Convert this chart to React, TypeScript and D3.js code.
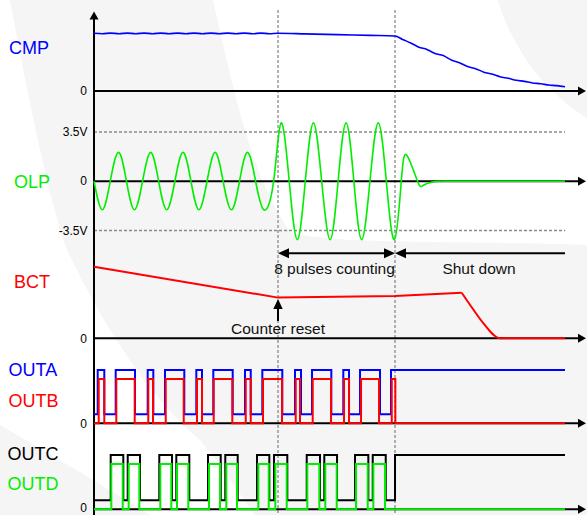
import React from "react";
import * as d3 from "d3";

// ---------- data (time in µs-like units, 0..145) ----------
const T_MAX = 145;
const T_RESET = 56.65;
const T_SHUT = 92.67;

// CMP (arbitrary volts)
const CMP_T = [0, 2.57, 5.14, 7.71, 10.28, 12.85, 15.42, 17.99, 20.56, 23.13, 25.7, 28.27, 30.84, 33.41, 35.98, 38.55, 41.12, 43.69, 46.26, 48.83, 51.4, 53.97, 56.54,
  65, 75, 85, 92.67,
  95, 97.5, 100, 102.5, 105, 107.5, 110, 112.5, 115, 117.5, 120, 122.5, 125, 127.5, 130, 132.5, 135, 137.5, 140, 142.5, 145];
const CMP_V = [3.0, 2.98, 3.01, 2.98, 3.01, 2.98, 3.01, 2.98, 3.01, 2.98, 3.01, 2.98, 3.01, 2.98, 3.01, 2.98, 3.01, 2.98, 3.01, 2.98, 3.01, 2.98, 3.0,
  2.97, 2.93, 2.89, 2.86,
  2.68, 2.50, 2.28, 2.16, 1.95, 1.84, 1.61, 1.47, 1.27, 1.16, 0.98, 0.88, 0.74, 0.66, 0.56, 0.50, 0.42, 0.38, 0.31, 0.28, 0.22];

// OLP (volts), extrema and zero crossings
const OLP_T = [0, 2.55, 5.0, 7.55, 10.0, 12.45, 14.95, 17.45, 19.9, 22.4, 24.9, 27.4, 29.85, 32.3, 34.8, 37.3, 39.75, 42.3, 44.8, 47.25, 49.75, 52.3,
  55.3, 57.6, 60.1, 62.6, 65.05, 67.55, 70.1, 72.7, 75.15, 77.6, 80.0, 82.4, 84.95, 87.5, 90.0, 92.5,
  94.6, 96.3, 99.6, 101.3, 104, 107];
const OLP_V = [0, -2.03, 0, 2.05, 0, -2.03, 0, 2.05, 0, -2.03, 0, 2.05, 0, -2.03, 0, 2.05, 0, -2.03, 0, 2.05, 0, -2.03,
  0, 4.15, 0, -4.15, 0, 4.15, 0, -4.15, 0, 4.15, 0, -4.15, 0, 4.15, 0, -4.15,
  0, 1.85, 0, -0.3, -0.06, 0];
const OLP_TAIL_T = [107, 145];
const OLP_TAIL_V = [0, 0];

// BCT
const BCT_T = [0, T_RESET, T_SHUT, 113.2];
const BCT_V = [3.98, 2.26, 2.35, 2.53];
const BCT_DECAY_T = [113.2, 115.8, 119.9, 125, 145];
const BCT_DECAY_V = [2.53, 1.85, 0.83, 0, 0];

// digital outputs: [rise, fall] pairs
const OUTA = [[1.14, 3.17], [6.68, 12.62], [16.53, 18.26], [21.86, 27.8], [31.5, 33.25], [36.73, 42.7], [46.49, 48.25], [51.82, 57.97],
  [61.88, 63.73], [67.12, 73.06], [76.75, 78.51], [81.9, 88.05], [91.44, 145]];
const OUTB = [[1.45, 3.17], [6.87, 12.53], [16.72, 18.17], [22.08, 27.62], [31.71, 33.25], [36.85, 42.58], [46.71, 48.25], [52.03, 57.88],
  [62.1, 63.42], [67.33, 72.97], [76.97, 78.51], [82.21, 87.75], [91.66, 92.77]];
const OUTC = [[5.14, 9.02], [10.38, 14.16], [20.1, 24.01], [25.34, 29.34], [35.1, 39.01], [40.42, 44.24], [50.18, 53.97], [55.42, 59.51],
  [65.49, 69.58], [70.9, 74.82], [80.36, 84.45], [85.81, 89.81], [92.67, 145]];
const OUTD = [[5.33, 8.84], [10.68, 13.95], [20.41, 23.8], [25.55, 29.03], [35.41, 38.79], [40.73, 44.03], [50.59, 53.79], [55.82, 59.33],
  [65.67, 69.37], [71.21, 74.72], [80.67, 84.27], [86.0, 89.59]];

const LABELS = ["CMP", "OLP", "BCT", "OUTA", "OUTB", "OUTC", "OUTD"];
const OLP_TICKS = [3.5, -3.5];

const BLUE = "#0000ff";
const RED = "#ff0000";
const GREEN = "#00ee00";
const BLACK = "#000000";
const GRAY = "#8a8a8a";
const FONT = "'Liberation Sans', Arial, Helvetica, sans-serif";

function zip(t: number[], v: number[]) {
  return t.map((d, i) => [d, v[i]] as [number, number]);
}

function pulsePoints(pulses: number[][]) {
  const pts: [number, number][] = [[0, 0]];
  let level = 0;
  for (const [r, f] of pulses) {
    pts.push([r, 1]);
    level = 1;
    if (f < T_MAX) {
      pts.push([f, 0]);
      level = 0;
    }
  }
  pts.push([T_MAX, level]);
  return pts;
}

export default function App() {
  const W = 587, H = 515;
  const X0 = 94;
  const x = d3.scaleLinear().domain([0, T_MAX]).range([X0, 565]);
  const xAxisEnd = 586;

  const yCmp = d3.scaleLinear().domain([0, 3]).range([91, 33.3]);
  const yOlp = d3.scaleLinear().domain([-3.5, 3.5]).range([230.5, 132]);
  const yBct = d3.scaleLinear().domain([0, 4]).range([338.3, 266.3]);
  const yA = d3.scaleLinear().domain([0, 1]).range([414.3, 370]);
  const yB = d3.scaleLinear().domain([0, 1]).range([423.3, 379]);
  const yC = d3.scaleLinear().domain([0, 1]).range([500.3, 455]);
  const yD = d3.scaleLinear().domain([0, 1]).range([509.3, 464]);

  const baselines = [yCmp(0), yOlp(0), yBct(0), yB(0), yD(0)];

  const lineWith = (ys: d3.ScaleLinear<number, number>, curve: d3.CurveFactory) =>
    d3.line<[number, number]>().x((d) => x(d[0])).y((d) => ys(d[1])).curve(curve);

  const cmpPath = lineWith(yCmp, d3.curveMonotoneX)(zip(CMP_T, CMP_V)) || "";
  const olpPath = lineWith(yOlp, d3.curveNatural)(zip(OLP_T, OLP_V)) || "";
  const olpTail = lineWith(yOlp, d3.curveLinear)(zip(OLP_TAIL_T, OLP_TAIL_V)) || "";
  const bctPath = lineWith(yBct, d3.curveLinear)(zip(BCT_T, BCT_V)) || "";
  const bctDecay = lineWith(yBct, d3.curveMonotoneX)(zip(BCT_DECAY_T, BCT_DECAY_V)) || "";
  const pA = lineWith(yA, d3.curveStepAfter)(pulsePoints(OUTA)) || "";
  const pB = lineWith(yB, d3.curveStepAfter)(pulsePoints(OUTB)) || "";
  const pC = lineWith(yC, d3.curveStepAfter)(pulsePoints(OUTC)) || "";
  const pD = lineWith(yD, d3.curveStepAfter)(pulsePoints(OUTD)) || "";

  // arrowhead helpers
  const headRight = (tx: number, ty: number, len = 8, hw = 4.5) => `M${tx},${ty}L${tx - len},${ty - hw}L${tx - len},${ty + hw}Z`;
  const headLeft = (tx: number, ty: number, len = 10, hw = 5) => `M${tx},${ty}L${tx + len},${ty - hw}L${tx + len},${ty + hw}Z`;
  const headUp = (tx: number, ty: number, len = 8, hw = 4.5) => `M${tx},${ty}L${tx - hw},${ty + len}L${tx + hw},${ty + len}Z`;

  const xr = x(T_RESET);
  const xs = x(T_SHUT);
  const arrowY = 253.3;

  const labelPos: [number, number, string][] = [
    [9, 48, BLUE], [14, yOlp(0), GREEN], [14, 281.7, RED], [8.5, 370, BLUE], [8.5, 400.7, RED], [7.5, 454, BLACK], [7.5, 484, GREEN],
  ];

  return (
    <svg width={W} height={H} style={{ position: "absolute", left: 0, top: 0, background: "#fff" }} fontFamily={FONT}>
      {/* faint watermark */}
      <g fill="#f5f5f5" stroke="none">
        <path d="M10,0 C30,110 50,200 65,245 C90,300 140,390 200,440 C225,470 240,495 255,515 L587,515 L587,245 C450,240 330,245 290,232 C255,180 240,120 213,0 Z" />
        <path d="M0,425 C60,460 110,490 150,515 L0,515 Z" />
        <circle cx={700} cy={-60} r={211} />
      </g>

      {/* dashed guides */}
      <g stroke={GRAY} strokeWidth={1.3} strokeDasharray="3,2" fill="none">
        <line x1={xr} x2={xr} y1={10} y2={H} />
        <line x1={xs} x2={xs} y1={10} y2={H} />
        {OLP_TICKS.map((v) => (
          <line key={v} x1={x(0)} x2={x(T_MAX)} y1={yOlp(v)} y2={yOlp(v)} />
        ))}
      </g>

      {/* axes */}
      <g stroke={BLACK} strokeWidth={2} fill="none">
        <line x1={X0} x2={X0} y1={18} y2={H} />
        {baselines.map((b, i) => (
          <line key={i} x1={X0} x2={xAxisEnd - 6} y1={b} y2={b} />
        ))}
      </g>
      <g fill={BLACK}>
        <path d={headUp(X0, 11.5, 8, 4.5)} />
        {baselines.map((b, i) => (
          <path key={i} d={headRight(xAxisEnd, b, 8, 4.5)} />
        ))}
      </g>

      {/* tick labels */}
      <g fontSize={12} fill={BLACK} textAnchor="end">
        {baselines.map((b, i) => (
          <text key={i} x={87} y={Math.min(b, 508)} dy="0.35em">0</text>
        ))}
        {OLP_TICKS.map((v) => (
          <text key={v} x={87.5} y={yOlp(v)} dy="0.36em">{v > 0 ? `${v}V` : `-${Math.abs(v)}V`}</text>
        ))}
      </g>

      {/* signal labels */}
      <g fontSize={18}>
        {LABELS.map((l, i) => (
          <text key={l} x={labelPos[i][0]} y={labelPos[i][1]} dy="0.36em" fill={labelPos[i][2]}>{l}</text>
        ))}
      </g>

      {/* signals */}
      <g fill="none" strokeLinejoin="round">
        <path d={cmpPath} stroke={BLUE} strokeWidth={1.6} />
        <path d={olpPath} stroke={GREEN} strokeWidth={1.6} />
        <path d={olpTail} stroke={GREEN} strokeWidth={1.6} />
        <path d={bctPath} stroke={RED} strokeWidth={2} />
        <path d={bctDecay} stroke={RED} strokeWidth={2} />
        <path d={pA} stroke={BLUE} strokeWidth={2} strokeLinejoin="miter" />
        <path d={pB} stroke={RED} strokeWidth={2} strokeLinejoin="miter" />
        <path d={pC} stroke={BLACK} strokeWidth={2} strokeLinejoin="miter" />
        <path d={pD} stroke={GREEN} strokeWidth={2} strokeLinejoin="miter" />
      </g>

      {/* annotations */}
      <g stroke={BLACK} strokeWidth={2} fill="none">
        <line x1={xr + 6} x2={xs - 6} y1={arrowY} y2={arrowY} />
        <line x1={xs + 6} x2={x(T_MAX)} y1={arrowY} y2={arrowY} />
        <line x1={xr} x2={xr} y1={306} y2={321} />
      </g>
      <g fill={BLACK}>
        <path d={headLeft(xr, arrowY, 11, 5)} />
        <path d={headRight(xs, arrowY, 11, 5)} />
        <path d={headLeft(xs, arrowY, 11, 5)} />
        <path d={headUp(xr, yBct(2.26) + 1.5, 10, 4.7)} />
      </g>
      <g fontSize={15.5} fill="#111" textAnchor="middle">
        <text x={(xr + xs) / 2 - 2} y={274.3}>8 pulses counting</text>
        <text x={479} y={274.3}>Shut down</text>
        <text x={xr} y={334.3}>Counter reset</text>
      </g>
    </svg>
  );
}
